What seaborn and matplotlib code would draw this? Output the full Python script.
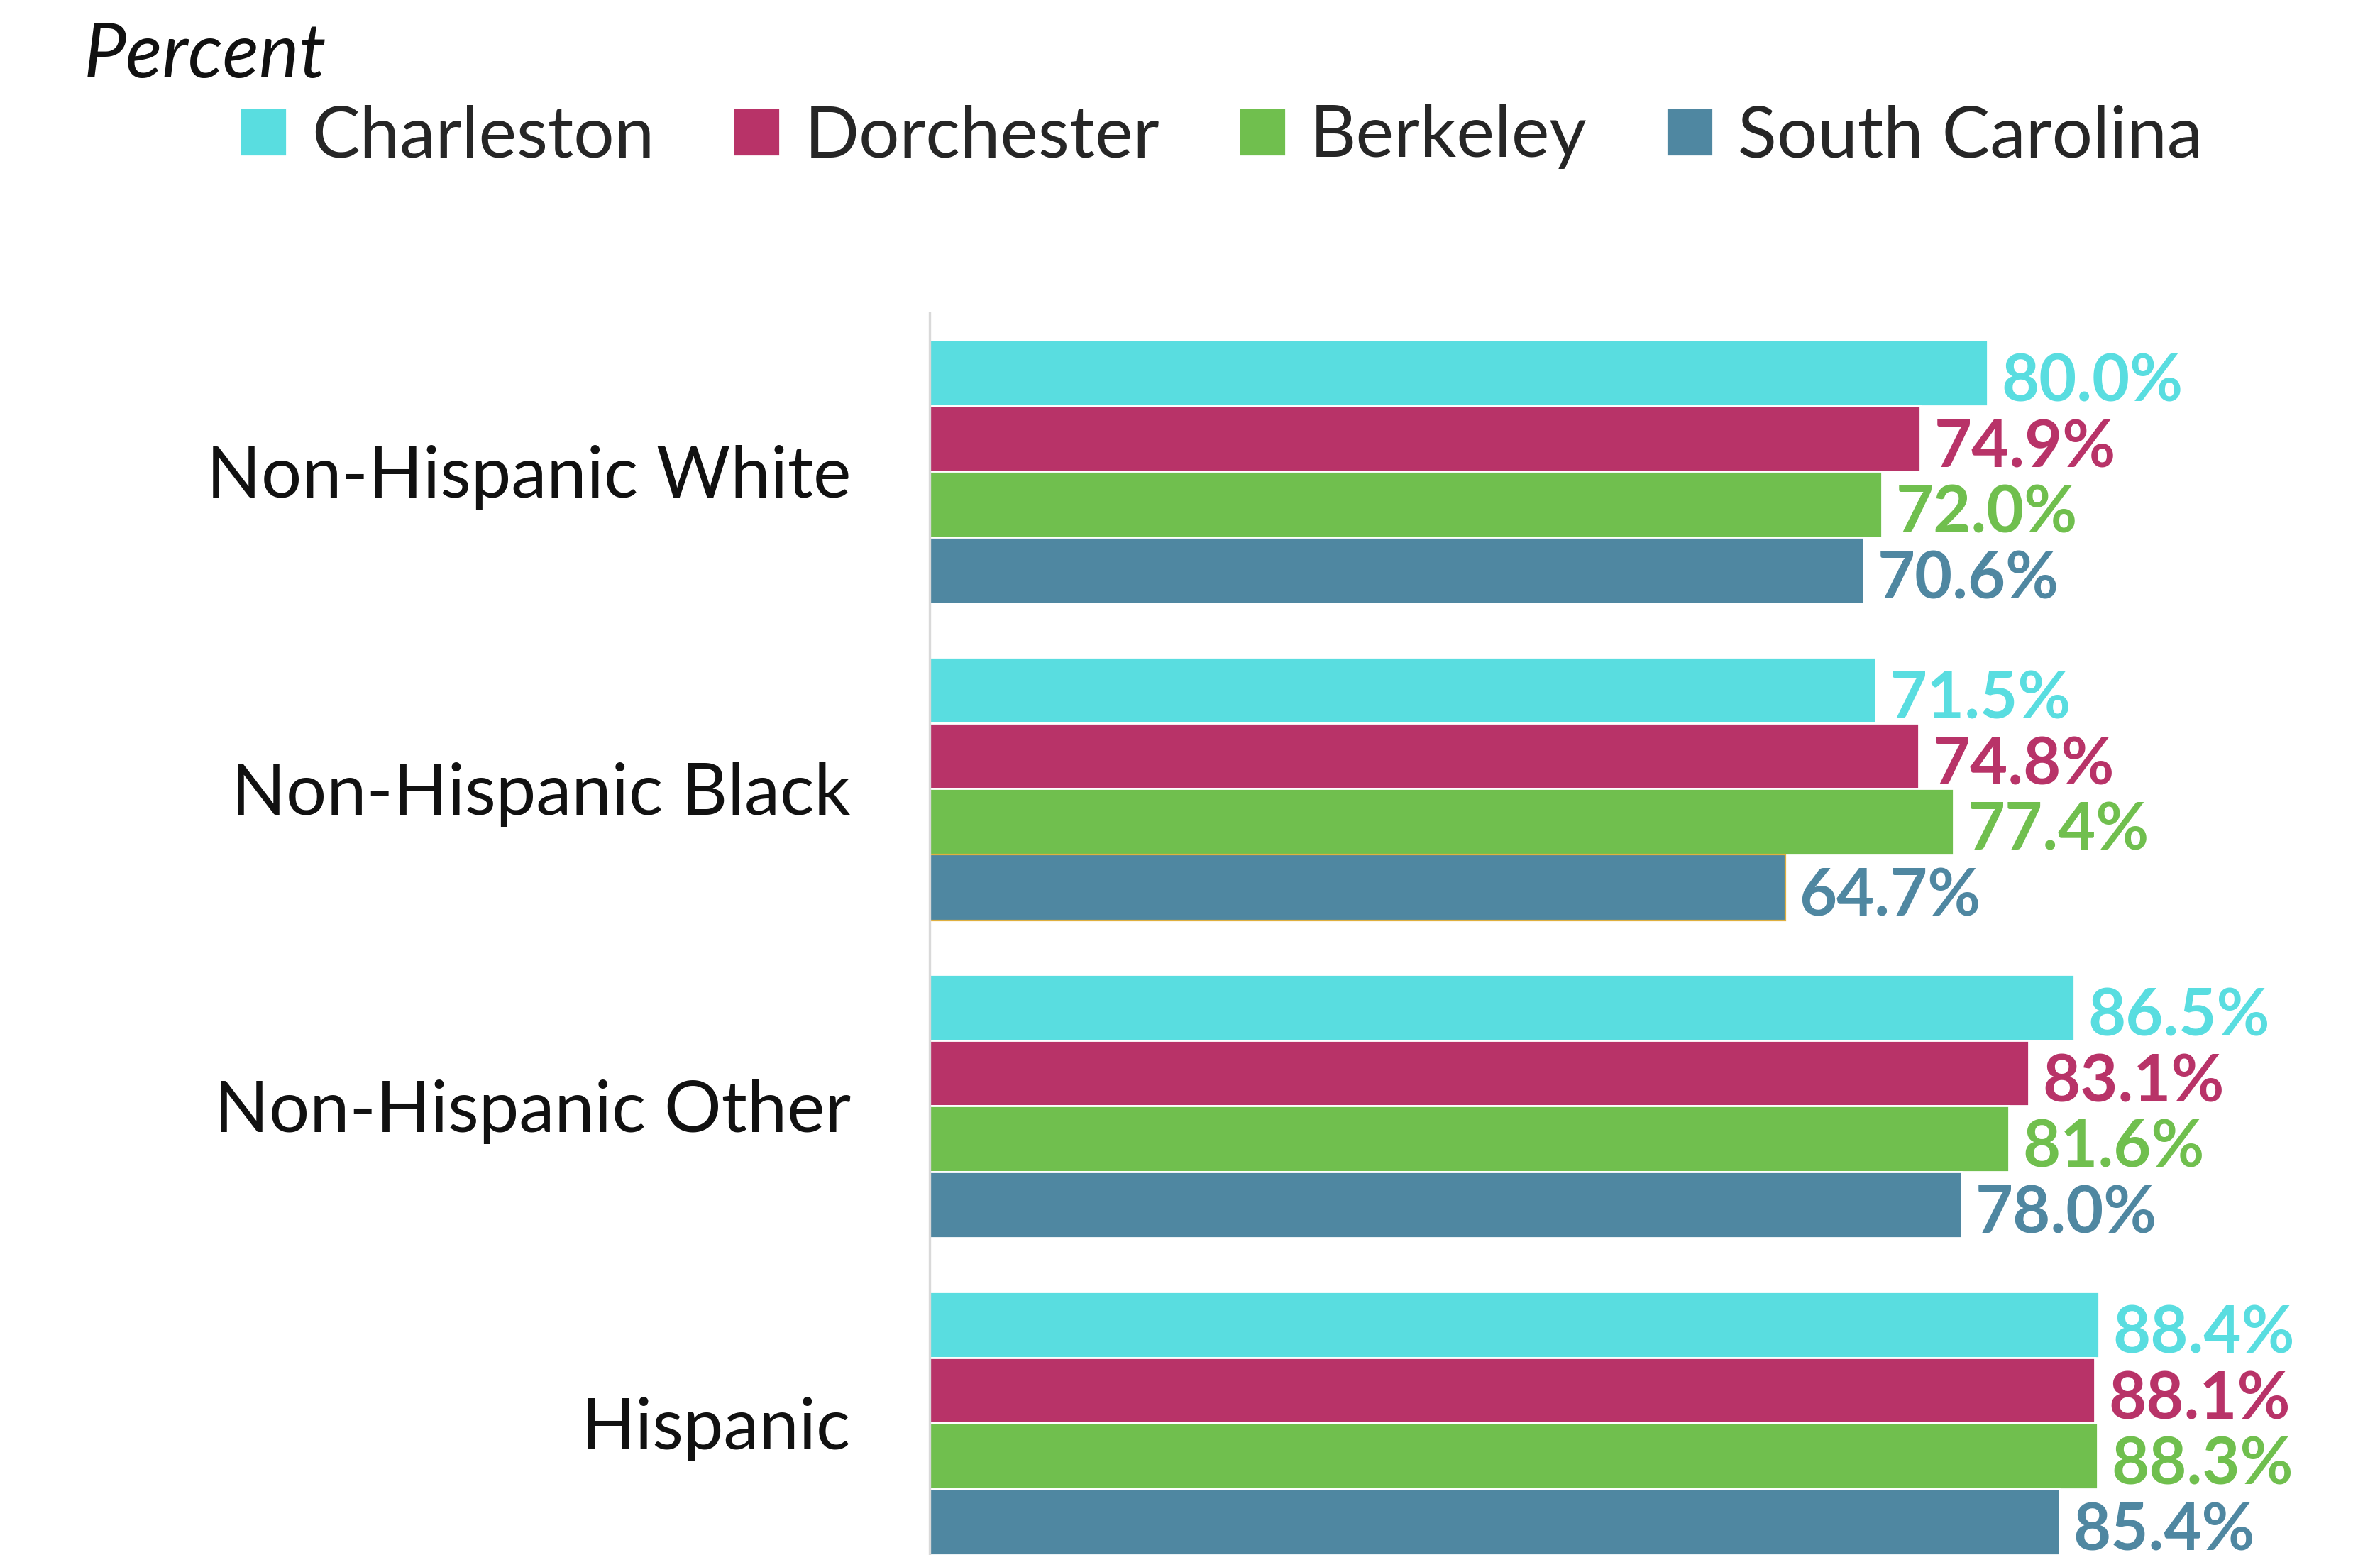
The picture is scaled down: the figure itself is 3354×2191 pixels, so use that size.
import matplotlib
matplotlib.use("Agg")
import matplotlib.pyplot as plt
import seaborn as sns
import pandas as pd

# data
groups = ["Non-Hispanic White", "Non-Hispanic Black", "Non-Hispanic Other", "Hispanic"]
areas = ["Charleston", "Dorchester", "Berkeley", "South Carolina"]
charleston = [80.0, 71.5, 86.5, 88.4]
dorchester = [74.9, 74.8, 83.1, 88.1]
berkeley = [72.0, 77.4, 81.6, 88.3]
south_carolina = [70.6, 64.7, 78.0, 85.4]
colors = ["#59DDE0", "#B83368", "#70BF4E", "#4F87A1"]

rows = []
for area, vals in zip(areas, [charleston, dorchester, berkeley, south_carolina]):
    for g, v in zip(groups, vals):
        rows.append({"group": g, "area": area, "value": v})
df = pd.DataFrame(rows)

sns.set_theme(style="white")
plt.rcParams["font.family"] = ["Lato", "DejaVu Sans"]

fig = plt.figure(figsize=(3355 / 200, 2191 / 200), dpi=200)
ax = fig.add_axes([1310 / 3355, 0.0, 1 - 1310 / 3355, 1 - 441 / 2191])

sns.barplot(data=df, y="group", x="value", hue="area", order=groups,
            hue_order=areas, palette=colors, width=0.83, saturation=1,
            orient="h", ax=ax, errorbar=None)

for cont, c in zip(ax.containers, colors):
    anns = ax.bar_label(cont, fmt="{:.1f}%", padding=7, color=c, fontsize=33,
                        fontweight="bold")
    for a in anns:
        a.xyann = (7, -5)

# the SC bar for Non-Hispanic Black has a thin gold outline in the original
ax.containers[3][1].set_edgecolor("#E0B040")
ax.containers[3][1].set_linewidth(0.8)

ax.set_xlim(0, 109.7)
ax.set_ylim(3.415, -0.5)
ax.set_xlabel("")
ax.set_ylabel("")
ax.set_xticks([])
ax.tick_params(axis="y", length=0, pad=40, labelsize=36.3, labelcolor="#111111")
for s in ["top", "right", "bottom"]:
    ax.spines[s].set_visible(False)
ax.spines["left"].set_color("#d9d9d9")
ax.spines["left"].set_linewidth(1.2)

sns.move_legend(ax, "center", bbox_to_anchor=(0.513, 0.912),
                bbox_transform=fig.transFigure, ncol=4, frameon=False,
                title=None, fontsize=36.5, handlelength=0.65, handleheight=0.65,
                handletextpad=0.34, columnspacing=1.1)

fig.text(0.035, 0.964, "Percent", fontsize=38.5, fontstyle="italic",
         ha="left", va="center", color="#111111")

fig.savefig("out.png", dpi=200)
